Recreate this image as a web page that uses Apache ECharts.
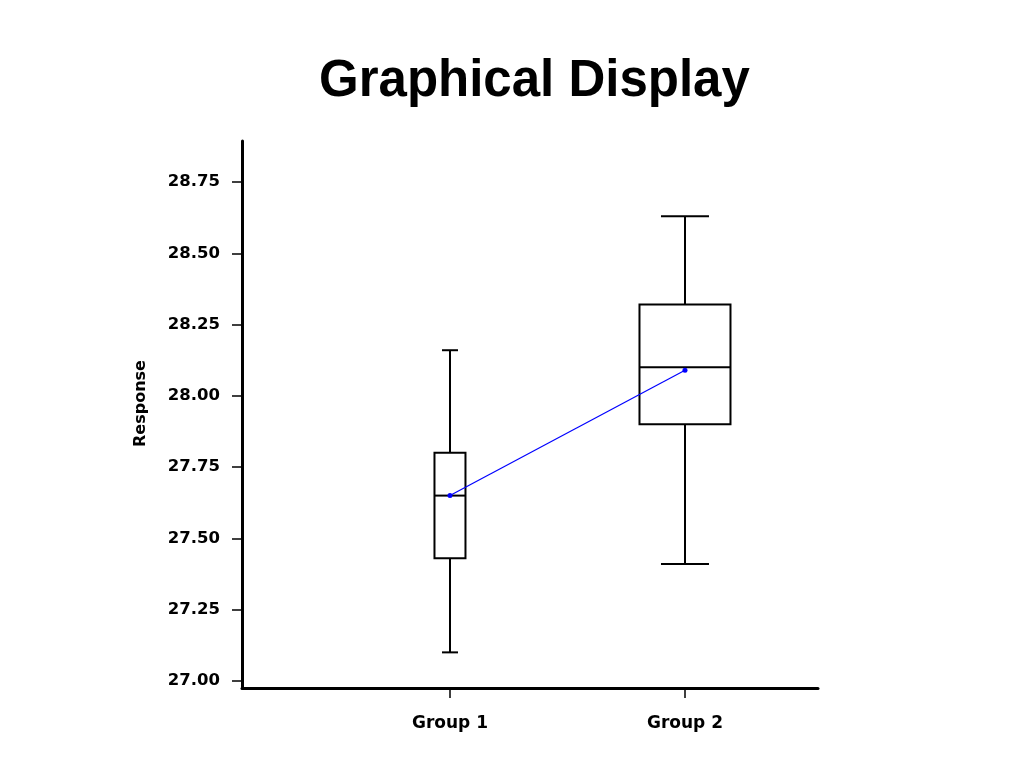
<!DOCTYPE html>
<html>
<head>
<meta charset="utf-8">
<script src="https://cdn.jsdelivr.net/npm/echarts@6/dist/echarts.min.js"></script>
<style>html,body{margin:0;padding:0;background:#fff;}#c{width:1024px;height:768px;}</style>
</head>
<body>
<div id="c"></div>
<script>
// ---- data ----
const categories = ['Group 1', 'Group 2'];
const whiskerLow = [27.10, 27.41];
const q1 = [27.43, 27.90];
const median = [27.65, 28.10];
const q3 = [27.80, 28.32];
const whiskerHigh = [28.16, 28.63];
const means = [27.65, 28.09];
const yTickValues = [27.00, 27.25, 27.50, 27.75, 28.00, 28.25, 28.50, 28.75];
const xTickValues = [1, 2];

// ---- styling (not data) ----
const boxHalfPx = [15.5, 45.5];
const capHalfPx = [8, 24];

const boxRows = categories.map((c, i) => [xTickValues[i], whiskerLow[i], q1[i], median[i], q3[i], whiskerHigh[i]]);
const meanRows = categories.map((c, i) => [xTickValues[i], means[i]]);

const chart = echarts.init(document.getElementById('c'));
const lineStyle = { stroke: '#000', lineWidth: 2 };

chart.setOption({
  backgroundColor: '#fff',
  animation: false,
  title: {
    text: 'Graphical Display',
    left: 314,
    top: 51,
    textStyle: { fontFamily: 'Liberation Sans', fontWeight: 'bold', fontSize: 51, color: '#000' }
  },
  grid: { left: 242, top: 141, right: 206, bottom: 80, containLabel: false },
  xAxis: {
    type: 'value',
    min: 0.115,
    max: 2.566,
    splitLine: { show: false },
    axisLine: { show: true, lineStyle: { color: '#000', width: 3 } },
    axisTick: { show: true, customValues: xTickValues, length: 10, lineStyle: { color: '#000', width: 1.5 } },
    axisLabel: {
      customValues: xTickValues,
      margin: 27,
      formatter: v => categories[Math.round(v) - 1] || '',
      fontFamily: 'DejaVu Sans', fontWeight: 'bold', fontSize: 17, color: '#000'
    }
  },
  yAxis: {
    type: 'value',
    min: 26.975,
    max: 28.894,
    name: 'Response',
    nameLocation: 'middle',
    nameGap: 93,
    nameTextStyle: { fontFamily: 'DejaVu Sans', fontWeight: 'bold', fontSize: 16, color: '#000', padding: [0, 0, 0, 22] },
    splitLine: { show: false },
    axisLine: { show: true, lineStyle: { color: '#000', width: 3 } },
    axisTick: { show: true, customValues: yTickValues, length: 10, lineStyle: { color: '#000', width: 1.5 } },
    axisLabel: {
      customValues: yTickValues,
      margin: 22,
      formatter: v => Number(v).toFixed(2),
      fontFamily: 'DejaVu Sans', fontWeight: 'bold', fontSize: 16.5, color: '#000'
    }
  },
  series: [
    {
      type: 'custom',
      data: boxRows,
      z: 2,
      renderItem: function (params, api) {
        const i = params.dataIndex;
        const x = api.value(0);
        const pLow = api.coord([x, api.value(1)]);
        const pQ1 = api.coord([x, api.value(2)]);
        const pMed = api.coord([x, api.value(3)]);
        const pQ3 = api.coord([x, api.value(4)]);
        const pHigh = api.coord([x, api.value(5)]);
        const cx = pLow[0];
        const bh = boxHalfPx[i], ch = capHalfPx[i];
        return {
          type: 'group',
          children: [
            { type: 'line', shape: { x1: cx, y1: pLow[1], x2: cx, y2: pQ1[1] }, style: lineStyle },
            { type: 'line', shape: { x1: cx, y1: pQ3[1], x2: cx, y2: pHigh[1] }, style: lineStyle },
            { type: 'line', shape: { x1: cx - ch, y1: pLow[1], x2: cx + ch, y2: pLow[1] }, style: lineStyle },
            { type: 'line', shape: { x1: cx - ch, y1: pHigh[1], x2: cx + ch, y2: pHigh[1] }, style: lineStyle },
            { type: 'rect', shape: { x: cx - bh, y: pQ3[1], width: 2 * bh, height: pQ1[1] - pQ3[1] }, style: { fill: 'transparent', stroke: '#000', lineWidth: 2 } },
            { type: 'line', shape: { x1: cx - bh, y1: pMed[1], x2: cx + bh, y2: pMed[1] }, style: lineStyle }
          ]
        };
      }
    },
    {
      type: 'line',
      data: meanRows,
      z: 5,
      symbol: 'circle',
      symbolSize: 5,
      itemStyle: { color: '#0000ff' },
      lineStyle: { color: '#0000ff', width: 1.2 }
    }
  ]
});
</script>
</body>
</html>
